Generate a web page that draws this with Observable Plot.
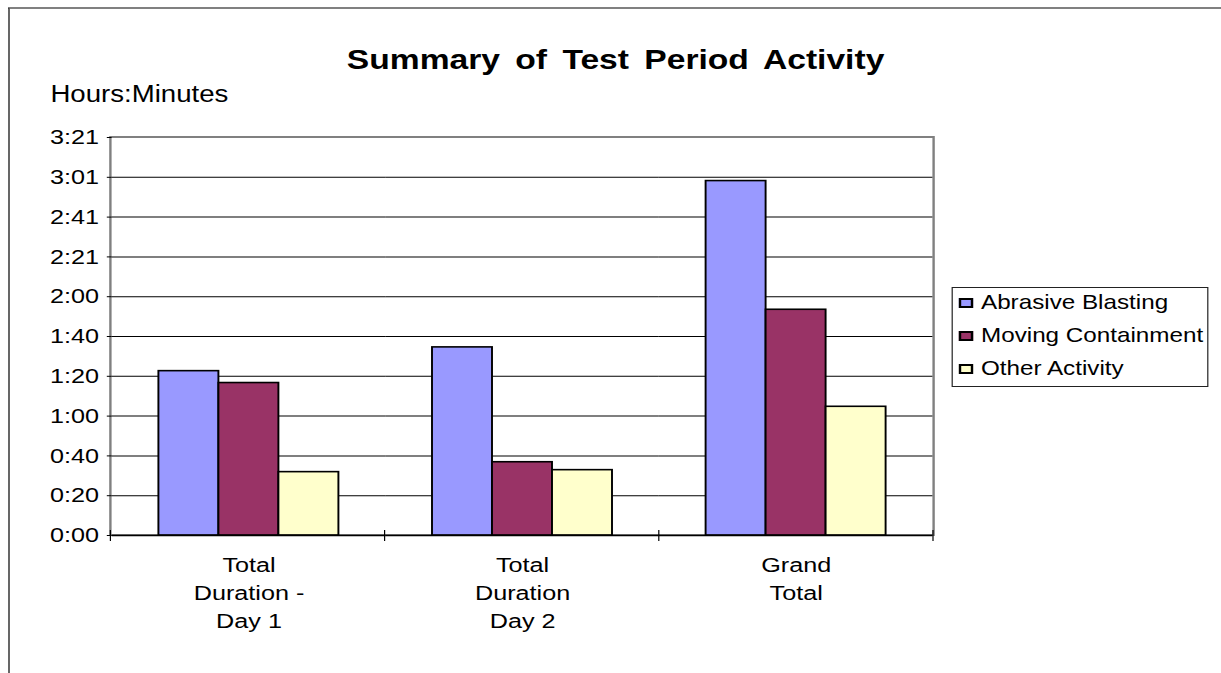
<!DOCTYPE html>
<html>
<head>
<meta charset="utf-8">
<script src="https://cdn.jsdelivr.net/npm/d3@7"></script>
<script src="https://cdn.jsdelivr.net/npm/@observablehq/plot@0.6"></script>
<style>
  html, body { margin: 0; padding: 0; background: #fff; overflow: hidden; }
  #page {
    position: relative; width: 1018px; height: 673px;
    transform-origin: 0 0; transform: scaleX(1.2);
    font-family: "Liberation Sans", Arial, sans-serif; color: #000;
  }
  #outer {
    position: absolute; left: 6.5px; top: 7px; right: -20px; bottom: -20px;
    border-top: 2px solid #808080; border-left: 1px solid #000;
  }
  #title {
    position: absolute; left: 263px; width: 500px; top: 46px;
    text-align: center; font-weight: bold; font-size: 28px; line-height: 28px;
    word-spacing: 5px; white-space: nowrap;
  }
  #ylab {
    position: absolute; left: 42px; top: 83px; font-size: 23px; line-height: 23px; white-space: nowrap;
  }
  #plotborder {
    position: absolute; left: 91px; top: 136px; width: 687.5px; height: 400px;
    box-sizing: border-box; border: 2px solid #808080;
  }
  #chart { position: absolute; left: 0; top: 0; }
  #legend {
    position: absolute; left: 793.3px; top: 287px; width: 214px; height: 100px;
    box-sizing: border-box; border: 1px solid #222; padding-top: 0;
  }
  .item { display: flex; align-items: center; height: 33px; font-size: 20.2px; white-space: nowrap; padding-left: 4.7px; }
  .item:first-child { margin-top: -2px; }
  .swatch { width: 12.5px; height: 10px; box-sizing: border-box; border: 2px solid #000; margin-right: 6px; flex: none; }
</style>
</head>
<body>
<div id="page">
  <div id="outer"></div>
  <div id="title">Summary of Test Period Activity</div>
  <div id="ylab">Hours:Minutes</div>
  <div id="plotborder"></div>
  <div id="chart"></div>
  <div id="legend"></div>
</div>
<script>
// ---- data ----
const categories = ["Day 1", "Day 2", "Grand Total"];
const categoryLabels = ["Total\nDuration -\nDay 1", "Total\nDuration\nDay 2", "Grand\nTotal"];
const series = ["Abrasive Blasting", "Moving Containment", "Other Activity"];
const abrasiveMinutes = [83, 95, 179];
const movingMinutes = [77, 37, 114];
const otherMinutes = [32, 33, 65];
const seriesColors = ["#9999FF", "#993366", "#FFFFCC"];
const yTicks = [0, 20.1, 40.2, 60.3, 80.4, 100.5, 120.6, 140.7, 160.8, 180.9, 201];
const yTickLabels = ["0:00", "0:20", "0:40", "1:00", "1:20", "1:40", "2:00", "2:21", "2:41", "3:01", "3:21"];

const seriesValues = [abrasiveMinutes, movingMinutes, otherMinutes];
const rows = [];
categories.forEach((c, i) => {
  series.forEach((s, j) => rows.push({cat: c, series: s, value: seriesValues[j][i]}));
});
const labelRows = categories.map((c, i) => ({cat: c, label: categoryLabels[i]}));

const W = 1018, H = 673;
const mL = 92, mR = 240.5, mT = 137, mB = 138;

const plot = Plot.plot({
  width: W, height: H,
  marginLeft: mL, marginRight: mR, marginTop: mT, marginBottom: mB,
  style: {fontFamily: "'Liberation Sans', Arial, sans-serif", fontSize: "21px", background: "transparent", color: "#000", overflow: "visible"},
  fx: {domain: categories, padding: 0, axis: null, label: null},
  x: {domain: series, paddingInner: 0, paddingOuter: 0.75, axis: null},
  y: {
    domain: [0, 201], ticks: yTicks,
    tickFormat: d => { const i = yTicks.findIndex(t => Math.abs(t - d) < 1e-9); return i >= 0 ? yTickLabels[i] : ""; },
    tickSize: 4, tickPadding: 7, label: null
  },
  color: {domain: series, range: seriesColors},
  marks: [
    Plot.ruleY(yTicks.slice(1, -1), {stroke: "#000", strokeWidth: 1}),
    Plot.barY(rows, {fx: "cat", x: "series", y: "value", fill: "series", stroke: "#000", strokeWidth: 1.6, inset: 0}),
    Plot.ruleY([0], {stroke: "#000", strokeWidth: 1.5}),
    Plot.text(labelRows, {
      fx: "cat", text: "label",
      frameAnchor: "bottom", lineAnchor: "top", dy: 17,
      fontSize: 21, lineHeight: 1.333, fill: "#000"
    })
  ]
});
document.getElementById("chart").appendChild(plot);

// category boundary ticks on the x axis
let r0 = mL, r1 = W - mR, y0 = H - mB;
try {
  const fxS = plot.scale("fx");
  if (fxS && fxS.range) { r0 = fxS.range[0]; r1 = fxS.range[1]; }
  const yS = plot.scale("y");
  if (yS && yS.apply) y0 = yS.apply(0);
} catch (e) {}
const step = (r1 - r0) / categories.length;
const g = d3.select(plot).append("g").attr("stroke", "#000").attr("stroke-width", 1);
for (let i = 0; i <= categories.length; i++) {
  const x = r0 + i * step;
  g.append("line").attr("x1", x).attr("x2", x).attr("y1", y0 - 5).attr("y2", y0 + 6);
}

// legend
const legend = d3.select("#legend");
series.forEach((s, i) => {
  const it = legend.append("div").attr("class", "item");
  it.append("div").attr("class", "swatch").style("background", seriesColors[i]);
  it.append("span").text(s);
});
</script>
</body>
</html>
